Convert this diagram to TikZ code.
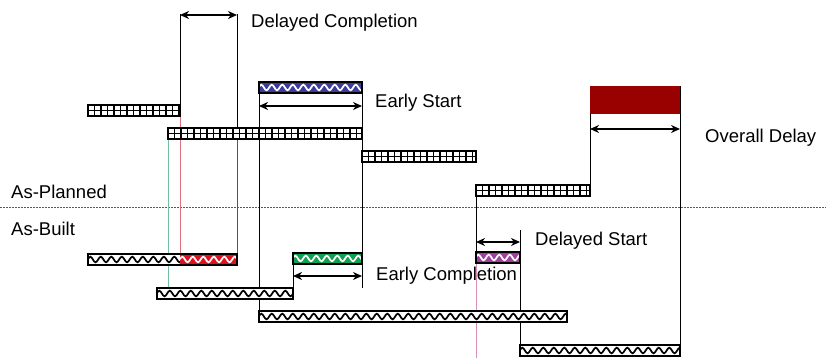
\documentclass[tikz,border=0pt]{standalone}
\usepackage{fontspec}
\setmainfont{Liberation Sans}
\usetikzlibrary{arrows.meta,decorations.pathmorphing}
\definecolor{odred}{HTML}{990000}
\definecolor{barblue}{HTML}{3C3C9C}
\definecolor{barred}{HTML}{E0101E}
\definecolor{bargreen}{HTML}{10A050}
\definecolor{barpurple}{HTML}{A040A0}
\definecolor{lred}{HTML}{E07080}
\definecolor{dred}{HTML}{B03040}
\definecolor{lgreen}{HTML}{70C0A0}
\definecolor{lpink}{HTML}{D890B8}
\tikzset{
 lbl/.style={anchor=base west, inner sep=0pt, font=\fontsize{18.5}{20}\selectfont},
 dimarrow/.style={{Stealth[length=9pt,width=8pt]}-{Stealth[length=9pt,width=8pt]}, line width=1.6pt},
 vline/.style={line width=0.9pt},
}
\newcommand\gridbar[3]{%
 \begin{scope}
 \fill[white] (#1,#3) rectangle (#2,#3+11);
 \begin{scope}
 \clip (#1,#3) rectangle (#2,#3+11);
 \draw[line width=1.1pt] (#1,#3+5.5) -- (#2,#3+5.5);
 \foreach \k in {0,...,40} \draw[line width=1.1pt] ({#1+6.5*\k},#3) -- ++(0,11);
 \end{scope}
 \draw[line width=1.2pt] (#1,#3) rectangle (#2,#3+11);
 \end{scope}}
\newcommand\wavefill[5]{%
 \begin{scope}
 \fill[#4] (#1,#3) rectangle (#2,#3+11);
 \clip (#1,#3) rectangle (#2,#3+11);
 \draw[#5, line width=1.7pt, decorate, decoration={snake, segment length=10.5pt, amplitude=2.8pt}] (#1-1,#3+5.5) -- (#2+14,#3+5.5);
 \end{scope}}
\newcommand\barframe[3]{\draw[line width=1.2pt] (#1,#3) rectangle (#2,#3+11);}
\begin{document}
\begin{tikzpicture}[x=1pt,y=-1pt]
\useasboundingbox (0,0) rectangle (826,358);
% dashed separator
\draw[gray!70!black, dashed, dash pattern=on 2pt off 1pt, line width=0.7pt] (0,207) -- (826,207);
\node[lbl] (asplanned) at (11,198) {As-Planned};
\node[lbl] (asbuilt) at (11,235) {As-Built};

% vertical reference lines
\draw[vline] (180,14) -- (180,105);
\draw[vline, lred] (180,116) -- (180,254);
\draw[vline] (237,14) -- (237,128);
\draw[vline, dred] (237,139) -- (237,254);
\draw[vline, lgreen] (168,139) -- (168,288);
\draw[vline] (259,82) -- (259,311);
\draw[vline] (362,82) -- (362,288);
\draw[vline] (293,264) -- (293,288);
\draw[vline] (476,185) -- (476,252);
\draw[vline, lpink] (476,263) -- (476,358);
\draw[vline] (520,230) -- (520,345);
\draw[vline] (590,114) -- (590,185);
\draw[vline] (680,86) -- (680,345);

% as-planned bars
\gridbar{88}{180}{105}
\gridbar{168}{362}{128}
\gridbar{362}{476}{151}
\gridbar{476}{590}{185}
\fill[odred] (590,86) rectangle (680,114);
\wavefill{259}{362}{82}{barblue}{white}
\barframe{259}{362}{82}

% as-built bars
\wavefill{88}{180}{254}{white}{black}
\wavefill{180}{237}{254}{barred}{white}
\barframe{88}{237}{254}
\wavefill{157}{293}{288}{white}{black}
\barframe{157}{293}{288}
\wavefill{293}{362}{253}{bargreen}{white}
\barframe{293}{362}{253}
\wavefill{259}{567}{311}{white}{black}
\barframe{259}{567}{311}
\wavefill{476}{520}{252}{barpurple}{white}
\barframe{476}{520}{252}
\wavefill{520}{680}{345}{white}{black}
\barframe{520}{680}{345}

% dimension arrows
\coordinate (dc1) at (180,15); \coordinate (dc2) at (237,15);
\draw[dimarrow] (dc1) -- (dc2);
\coordinate (es1) at (259,106); \coordinate (es2) at (362,106);
\draw[dimarrow] (es1) -- (es2);
\coordinate (od1) at (590,129); \coordinate (od2) at (680,129);
\draw[dimarrow] (od1) -- (od2);
\coordinate (ec1) at (293,276); \coordinate (ec2) at (362,276);
\draw[dimarrow] (ec1) -- (ec2);
\coordinate (ds1) at (476,242); \coordinate (ds2) at (520,242);
\draw[dimarrow] (ds1) -- (ds2);

% labels
\node[lbl] (ldc) at (251,28) {Delayed Completion};
\node[lbl] (les) at (375,108) {Early Start};
\node[lbl] (lod) at (705,143) {Overall Delay};
\node[lbl] (lec) at (376,280) {Early Completion};
\node[lbl] (lds) at (535,245) {Delayed Start};
\end{tikzpicture}
\end{document}
